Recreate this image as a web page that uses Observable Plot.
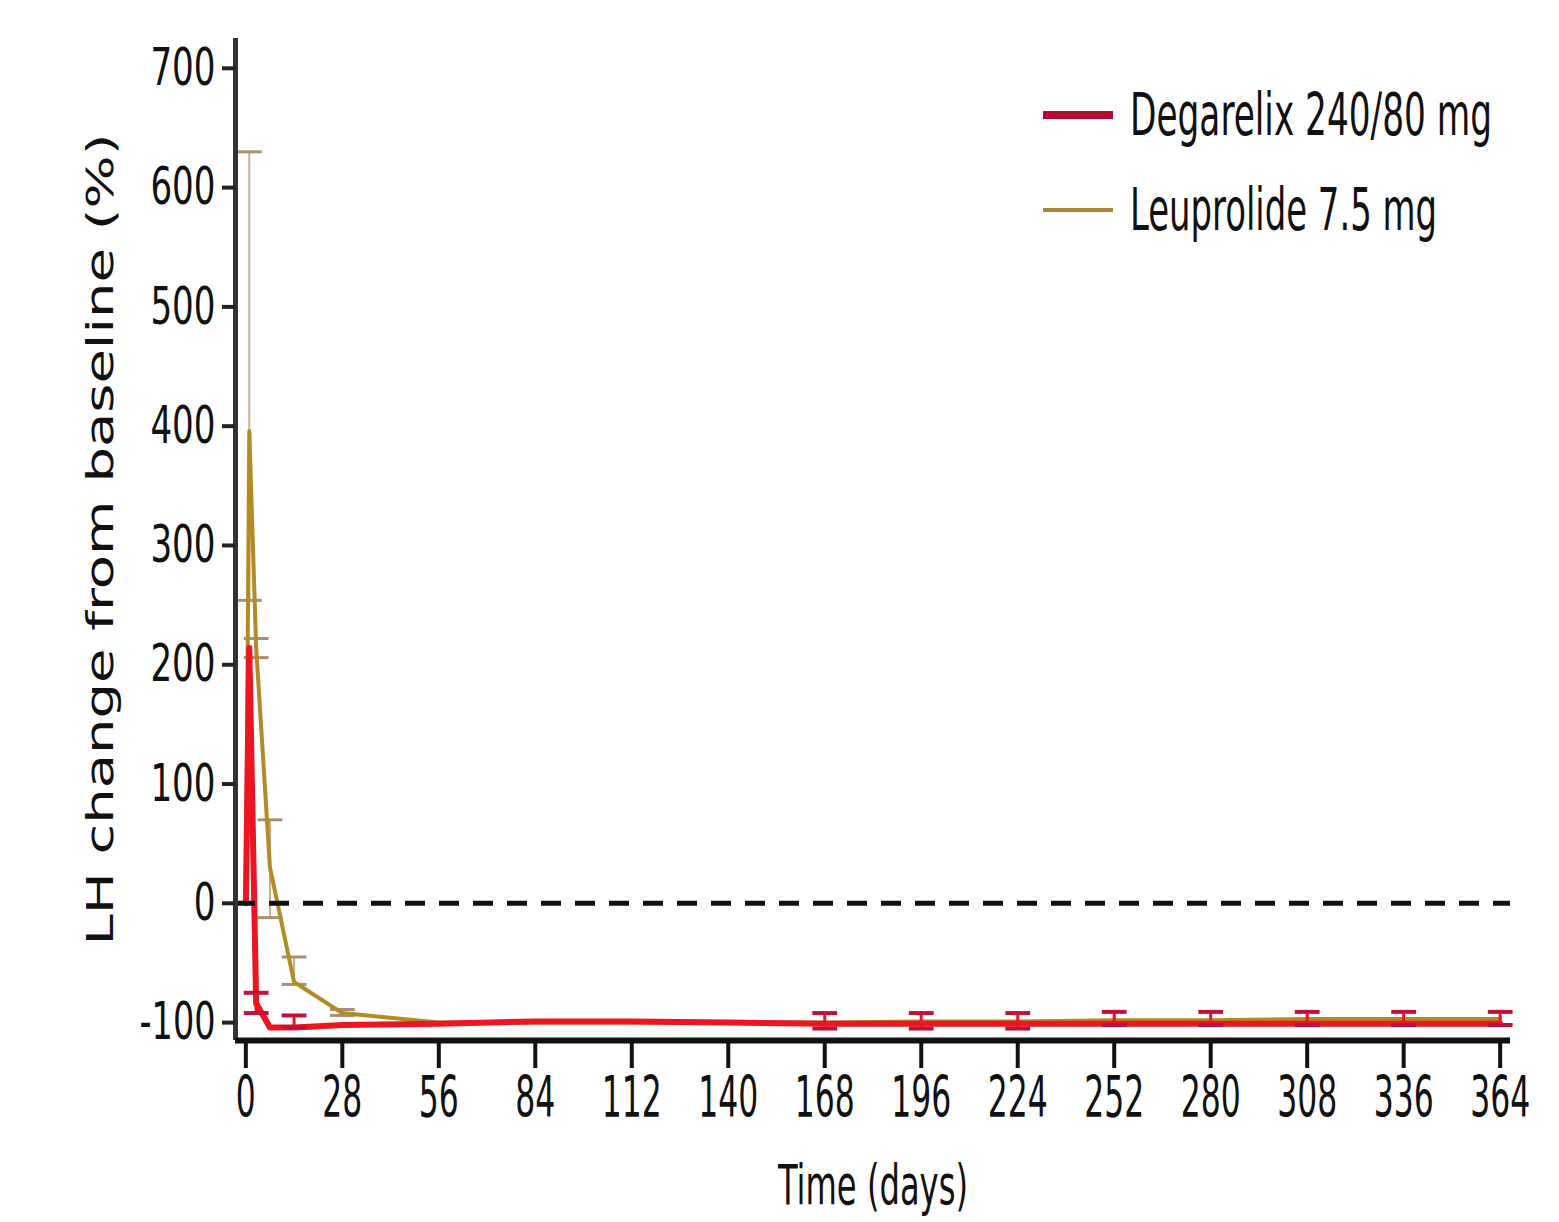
<!DOCTYPE html>
<html><head><meta charset="utf-8">
<script src="https://cdn.jsdelivr.net/npm/d3@7"></script>
<script src="https://cdn.jsdelivr.net/npm/@observablehq/plot@0.6"></script>
<style>
body{margin:0;background:#fff;}
#wrap{position:relative;width:1559px;height:1222px;overflow:hidden;}
.legend{position:absolute;left:1043px;top:67px;font-family:"DejaVu Sans Condensed","Liberation Sans Narrow",sans-serif;font-size:58px;color:#111;}
.legend .row{display:flex;align-items:center;height:95px;white-space:nowrap;}
.legend svg{margin-right:17px;flex:none;}
.legend span{display:inline-block;transform-origin:0 50%;white-space:nowrap;}
</style></head><body><div id="wrap"></div>
<script>
// ---- data ----
const days        = [0, 1, 3, 7, 14, 28, 56, 84, 112, 140, 168, 196, 224, 252, 280, 308, 336, 364];
const degarelix   = [0, 214, -84, -104, -104, -102, -101, -99, -99, -100, -101, -101, -101, -101, -101, -101, -101, -101];
const leuprolide  = [0, 396, 214, 30, -66, -92, -100, -100, -100, -100, -100, -99, -99, -98, -98, -97, -97, -97];
const degErrLo    = [null, null, -92, null, -104, null, null, null, null, null, -105, -105, -105, -102, -102, -102, -102, -102];
const degErrHi    = [null, null, -75, null, -94, null, null, null, null, null, -92, -92, -92, -91, -91, -91, -91, -91];
const leuErrLo    = [null, 254, 206, -12, -68, -94, null, null, null, null, null, null, null, null, null, null, null, null];
const leuErrHi    = [null, 630, 222, 70, -45, -89, null, null, null, null, null, null, null, null, null, null, null, null];
const xTicks = [0, 28, 56, 84, 112, 140, 168, 196, 224, 252, 280, 308, 336, 364];
const yTicks = [-100, 0, 100, 200, 300, 400, 500, 600, 700];
const xDomain = [-3, 367];
const yDomain = [-115, 725];
const seriesNames = ["Degarelix 240/80 mg", "Leuprolide 7.5 mg"];
const xTitle = "Time (days)";
const yTitle = "LH change from baseline (%)";
const colors = {deg: "#ec1520", leu: "#b38a25", degCap: "#c2103a", leuCap: "#a89070", legDeg: "#b50c35", legLeu: "#a8843c"};

const deg = days.map((d, i) => ({day: d, v: degarelix[i], lo: degErrLo[i], hi: degErrHi[i]}));
const leu = days.map((d, i) => ({day: d, v: leuprolide[i], lo: leuErrLo[i], hi: leuErrHi[i]}));
const degE = deg.filter(d => d.hi != null);
const leuE = leu.filter(d => d.hi != null);
const capW = 3.6;
const cond = `"DejaVu Sans Condensed","Liberation Sans Narrow",sans-serif`;

const chart = Plot.plot({
  width: 1559, height: 1222,
  marginLeft: 235, marginRight: 49, marginTop: 38, marginBottom: 182,
  x: {domain: xDomain},
  y: {domain: yDomain},
  style: {background: "#fff", color: "#111"},
  marks: [
    Plot.ruleX(leuE, {x: "day", y1: "lo", y2: "hi", stroke: "#cfaa8c", strokeWidth: 2}),
    Plot.link(leuE, {x1: d => d.day - capW, x2: d => d.day + capW, y1: "hi", y2: "hi", stroke: colors.leuCap, strokeWidth: 3}),
    Plot.link(leuE, {x1: d => d.day - capW, x2: d => d.day + capW, y1: "lo", y2: "lo", stroke: colors.leuCap, strokeWidth: 3}),
    Plot.line(leu, {x: "day", y: "v", stroke: colors.leu, strokeWidth: 4}),
    Plot.line(deg, {x: "day", y: "v", stroke: colors.deg, strokeWidth: 6}),
    Plot.ruleX(degE, {x: "day", y1: "lo", y2: "hi", stroke: colors.deg, strokeWidth: 3}),
    Plot.link(degE, {x1: d => d.day - capW, x2: d => d.day + capW, y1: "hi", y2: "hi", stroke: colors.degCap, strokeWidth: 4}),
    Plot.link(degE, {x1: d => d.day - capW, x2: d => d.day + capW, y1: "lo", y2: "lo", stroke: colors.degCap, strokeWidth: 4}),
    Plot.ruleY([0], {stroke: "#111", strokeWidth: 5, strokeDasharray: "20,14"}),
    Plot.ruleX([xDomain[0]], {stroke: "#333", strokeWidth: 5}),
    Plot.ruleY([yDomain[0]], {stroke: "#111", strokeWidth: 6}),
    Plot.axisY({ticks: yTicks, tickSize: 13, tickPadding: 7, tickFormat: d => String(d), fontSize: 52, fontFamily: cond, strokeWidth: 4, stroke: "#222", label: null}),
    Plot.axisX({ticks: xTicks, tickSize: 28, tickPadding: 8, tickFormat: d => String(d), fontSize: 57, fontFamily: cond, strokeWidth: 4, stroke: "#111", label: null}),
    Plot.text([xTitle], {frameAnchor: "bottom", dy: 163, fontSize: 55, fontFamily: cond, fill: "#111"}),
    Plot.text([yTitle], {frameAnchor: "left", rotate: -90, dx: -135, textAnchor: "middle", fontSize: 38, fontFamily: `"DejaVu Sans",Verdana,sans-serif`, fill: "#111"})
  ]
});

const wrap = document.getElementById("wrap");
wrap.appendChild(chart);

// fit condensed texts horizontally to the reference widths (keep them real text)
function squeeze(sel, targetOf) {
  d3.select(chart).selectAll(sel).each(function() {
    const L = this.getComputedTextLength();
    const target = targetOf(this.textContent);
    if (!L || !target) return;
    const t = this.getAttribute("transform") || "";
    this.setAttribute("transform", t + ` scale(${target / L},1)`);
  });
}
squeeze('g[aria-label="x-axis tick label"] text', s => s.length * 20);
squeeze('g[aria-label="y-axis tick label"] text', s => s.startsWith("-") ? 76 : s.length * 21.7);
d3.select(chart).selectAll("text").filter(function(){ return this.textContent === xTitle; })
  .attr("textLength", 190).attr("lengthAdjust", "spacingAndGlyphs");
d3.select(chart).selectAll("text").filter(function(){ return this.textContent === yTitle; })
  .attr("textLength", 812).attr("lengthAdjust", "spacingAndGlyphs");

const legend = document.createElement("div");
legend.className = "legend";
legend.innerHTML = `
  <div class="row"><svg width="70" height="12"><line x1="0" x2="70" y1="6" y2="6" stroke="${colors.legDeg}" stroke-width="8"/></svg><span>${seriesNames[0]}</span></div>
  <div class="row"><svg width="70" height="12"><line x1="0" x2="70" y1="6" y2="6" stroke="${colors.legLeu}" stroke-width="4"/></svg><span>${seriesNames[1]}</span></div>`;
wrap.appendChild(legend);
const targets = [362, 307];
legend.querySelectorAll("span").forEach((s, i) => {
  const w = s.getBoundingClientRect().width;
  s.style.transform = `scaleX(${targets[i] / w})`;
});
</script>
</body></html>
